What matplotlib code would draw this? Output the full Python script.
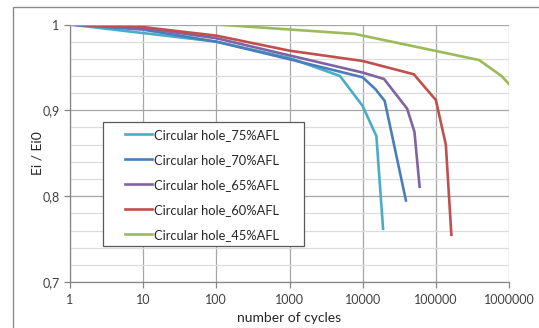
import numpy as np
import matplotlib
matplotlib.use("Agg")
import matplotlib.pyplot as plt
from matplotlib.patches import Rectangle
from matplotlib.ticker import FixedLocator, MultipleLocator, NullLocator

plt.rcParams["font.family"] = ["Lato", "DejaVu Sans"]

# series
cyc_75 = [1, 10, 100, 1000, 4900, 10000, 15400, 19000]
ei_75 = [1.0, 0.990, 0.980, 0.961, 0.940, 0.905, 0.870, 0.762]

cyc_70 = [1, 10, 100, 1000, 10000, 15000, 20000, 39000]
ei_70 = [1.0, 0.994, 0.980, 0.9595, 0.9385, 0.9245, 0.911, 0.795]

cyc_65 = [1, 10, 100, 1000, 10000, 19600, 40500, 51000, 60000]
ei_65 = [1.0, 0.996, 0.984, 0.964, 0.944, 0.9365, 0.902, 0.875, 0.811]

cyc_60 = [1, 10, 100, 1000, 10000, 50000, 100000, 137000, 163000]
ei_60 = [1.0, 0.997, 0.987, 0.9695, 0.9575, 0.942, 0.912, 0.860, 0.755]

cyc_45 = [1, 10, 100, 7800, 390000, 790000, 1000000]
ei_45 = [1.0, 1.0, 1.0, 0.989, 0.9586, 0.940, 0.9306]

labels = ["Circular hole_75%AFL", "Circular hole_70%AFL", "Circular hole_65%AFL",
          "Circular hole_60%AFL", "Circular hole_45%AFL"]
colors = ["#4bacc6", "#4a7ebb", "#8064a2", "#c0504d", "#9bbb59"]

x_ticks = [1, 10, 100, 1000, 10000, 100000, 1000000]
x_ticklabels = ["1", "10", "100", "1000", "10000", "100000", "1000000"]
y_ticks = [0.7, 0.8, 0.9, 1.0]
y_ticklabels = ["0,7", "0,8", "0,9", "1"]

W, H = 539, 328
fig = plt.figure(figsize=(W / 100, H / 100), dpi=100)
ax_l, ax_r, ax_t, ax_b = 70, 509, 24.5, 282
ax = fig.add_axes([ax_l / W, 1 - ax_b / H, (ax_r - ax_l) / W, (ax_b - ax_t) / H])

# outer chart frame (partly off the picture)
fig.patches.append(Rectangle((13 / W, -0.1), 1.2, 1 - 7 / H + 0.1,
                             transform=fig.transFigure, fill=False,
                             edgecolor="#8c8c8c", linewidth=1.0))

data = [(cyc_75, ei_75), (cyc_70, ei_70), (cyc_65, ei_65), (cyc_60, ei_60), (cyc_45, ei_45)]
for (x, y), lab, c in zip(data, labels, colors):
    ax.plot(x, y, color=c, linewidth=1.9, label=lab, solid_joinstyle="miter", zorder=3)

ax.set_xscale("log")
ax.set_xlim(1, 1000000)
ax.set_ylim(0.7, 1.0)
ax.xaxis.set_major_locator(FixedLocator(x_ticks))
ax.xaxis.set_minor_locator(NullLocator())
ax.set_xticklabels(x_ticklabels)
ax.set_yticks(y_ticks)
ax.set_yticklabels(y_ticklabels)
ax.yaxis.set_minor_locator(MultipleLocator(0.02))

ax.grid(True, which="major", color="#a6a6a6", linewidth=0.9)
ax.grid(True, which="minor", axis="y", color="#dcdcdc", linewidth=0.9)
ax.set_axisbelow(True)

for s in ["top", "right"]:
    ax.spines[s].set_visible(False)
for s in ["left", "bottom"]:
    ax.spines[s].set_color("#868686")
    ax.spines[s].set_linewidth(0.9)

ax.tick_params(axis="both", which="major", colors="#868686", labelcolor="#404040",
               labelsize=9, length=4, width=0.9)
ax.tick_params(axis="y", which="minor", length=0)
ax.tick_params(axis="x", pad=5)

ax.set_xlabel("number of cycles", fontsize=10, color="#262626")
ax.set_ylabel("Ei / Ei0", fontsize=10, color="#262626")
pw, ph = ax_r - ax_l, ax_b - ax_t
ax.xaxis.set_label_coords(0.5, (ax_b - 312) / ph)
ax.yaxis.set_label_coords((37 - ax_l) / pw, 0.5)
ax.yaxis.label.set_va("center")

# legend box drawn as its own frame, entries placed inside
lx0, lx1, ly0, ly1 = 103, 304, 122, 246
ax.add_patch(Rectangle(((lx0 - ax_l) / pw, (ax_b - ly1) / ph),
                       (lx1 - lx0) / pw, (ly1 - ly0) / ph,
                       transform=ax.transAxes, facecolor="white",
                       edgecolor="#595959", linewidth=0.9, zorder=4))
leg = ax.legend(loc="upper left", bbox_to_anchor=((lx0 + 18 - ax_l) / pw, (ax_b - ly0 - 3) / ph),
                fontsize=9.3, frameon=False,
                handlelength=2.1, handletextpad=0.15, labelspacing=1.0,
                borderpad=0.3, borderaxespad=0)
leg.set_zorder(5)
for t in leg.get_texts():
    t.set_color("#262626")

fig.savefig("out.png", dpi=100)
